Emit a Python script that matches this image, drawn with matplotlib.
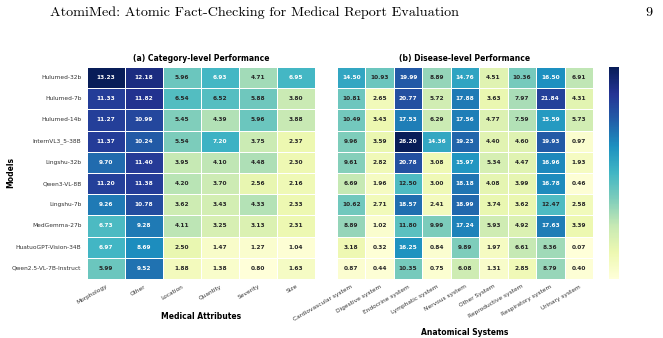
import numpy as np
import matplotlib
matplotlib.use("Agg")
import matplotlib.pyplot as plt
import seaborn as sns

models = ["Hulumed-32b", "Hulumed-7b", "Hulumed-14b", "InternVL3_5-38B", "Lingshu-32b",
          "Qwen3-VL-8B", "Lingshu-7b", "MedGemma-27b", "HuatuoGPT-Vision-34B",
          "Qwen2.5-VL-7B-Instruct"]

attributes = ["Morphology", "Other", "Location", "Quantity", "Severity", "Size"]
attr_scores = [
    [13.23, 12.18, 5.96, 6.93, 4.71, 6.95],
    [11.33, 11.82, 6.54, 6.52, 5.88, 3.80],
    [11.27, 10.99, 5.45, 4.39, 5.96, 3.88],
    [11.37, 10.24, 5.54, 7.20, 3.75, 2.37],
    [9.70, 11.40, 3.95, 4.10, 4.48, 2.30],
    [11.20, 11.38, 4.20, 3.70, 2.56, 2.16],
    [9.26, 10.78, 3.62, 3.43, 4.33, 2.33],
    [6.73, 9.28, 4.11, 3.25, 3.13, 2.31],
    [6.97, 8.69, 2.50, 1.47, 1.27, 1.04],
    [5.99, 9.52, 1.88, 1.38, 0.80, 1.63],
]

systems = ["Cardiovascular system", "Digestive system", "Endocrine system",
           "Lymphatic system", "Nervous system", "Other System",
           "Reproductive system", "Respiratory system", "Urinary system"]
system_scores = [
    [14.50, 10.93, 19.99, 8.89, 14.76, 4.51, 10.36, 16.50, 6.91],
    [10.81, 2.65, 20.77, 5.72, 17.88, 3.63, 7.97, 21.84, 4.31],
    [10.49, 3.43, 17.53, 6.29, 17.56, 4.77, 7.59, 15.59, 5.73],
    [9.96, 3.59, 26.20, 14.36, 19.23, 4.40, 4.60, 19.93, 0.97],
    [9.61, 2.82, 20.78, 3.08, 15.97, 5.34, 4.47, 16.96, 1.93],
    [6.69, 1.96, 12.50, 3.00, 18.18, 4.08, 3.99, 16.78, 0.46],
    [10.62, 2.71, 18.57, 2.41, 18.99, 3.74, 3.62, 12.47, 2.58],
    [8.89, 1.02, 11.80, 9.99, 17.24, 5.93, 4.92, 17.63, 3.39],
    [3.18, 0.32, 16.25, 0.84, 9.89, 1.97, 6.61, 8.36, 0.07],
    [0.87, 0.44, 10.35, 0.75, 6.08, 1.31, 2.85, 8.79, 0.40],
]

fig = plt.figure(figsize=(6.63, 3.38), dpi=100)

# page header from the paper
fig.text(0.075, 0.962, "AtomiMed: Atomic Fact-Checking for Medical Report Evaluation",
         family="cmr10", fontsize=10.2, ha="left", va="center")
fig.text(0.984, 0.962, "9", family="cmr10", fontsize=10.2, ha="right", va="center")

ax1 = fig.add_axes([0.1312, 0.1746, 0.3439, 0.6272])
ax2 = fig.add_axes([0.5083, 0.1746, 0.3861, 0.6272])
cax = fig.add_axes([0.9186, 0.1746, 0.0151, 0.6272])

annot_kw = {"fontsize": 4.2, "fontweight": "bold"}

sns.heatmap(np.array(attr_scores), ax=ax1, cmap="YlGnBu", annot=True, fmt=".2f",
            annot_kws=annot_kw, linewidths=0.6, linecolor="white", cbar=False,
            xticklabels=attributes, yticklabels=models)
sns.heatmap(np.array(system_scores), ax=ax2, cmap="YlGnBu", annot=True, fmt=".2f",
            annot_kws=annot_kw, linewidths=0.6, linecolor="white", cbar_ax=cax,
            xticklabels=systems, yticklabels=False)

cax.set_yticks([])
cax.tick_params(length=0)

tick_color = "#333333"
for ax in (ax1, ax2):
    ax.tick_params(length=0, labelsize=4.2, colors=tick_color)
    plt.setp(ax.get_xticklabels(), rotation=30, ha="right", rotation_mode="anchor")

plt.setp(ax1.get_yticklabels(), rotation=0)
ax1.tick_params(axis="y", pad=4)

ax1.set_title("(a) Category-level Performance", fontsize=5.5, fontweight="bold", pad=4)
ax2.set_title("(b) Disease-level Performance", fontsize=5.5, fontweight="bold", pad=4)
ax1.set_xlabel("Medical Attributes", fontsize=5.5, fontweight="bold")
ax2.set_xlabel("Anatomical Systems", fontsize=5.5, fontweight="bold")
ax1.set_ylabel("Models", fontsize=5.5, fontweight="bold")
ax1.xaxis.set_label_coords(0.5, -0.156)
ax2.xaxis.set_label_coords(0.5, -0.231)
ax1.yaxis.set_label_coords(-0.315, 0.5)

fig.savefig("out.png", dpi=100)
